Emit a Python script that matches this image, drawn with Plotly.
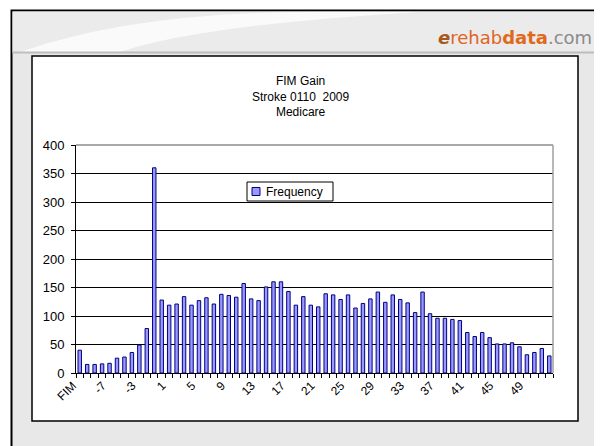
import plotly.graph_objects as go

# ---------------- data ----------------
categories = ["FIM"] + [str(v) for v in range(-10, 53)]
frequency = [40, 15, 15, 16, 17, 26, 28, 36, 49, 78, 360, 128, 119, 121, 134, 119, 127, 132, 121,
             138, 136, 133, 157, 130, 127, 151, 160, 160, 143, 119, 134, 119, 116, 139, 137, 129,
             137, 114, 122, 130, 142, 124, 137, 129,
             123, 106, 142, 104, 96, 96, 94, 92, 71, 64, 71, 62, 51, 51, 53, 46, 32, 36, 43, 30]
tick_labels = ["FIM", "-7", "-3", "1", "5", "9", "13", "17", "21", "25", "29", "33", "37", "41", "45", "49"]
y_ticks = [0, 50, 100, 150, 200, 250, 300, 350, 400]
title_lines = ["FIM Gain", "Stroke 0110  2009", "Medicare"]
series_name = "Frequency"

# ---------------- layout geometry (viewport pixels) ----------------
OFF = 8                      # default page body margin
W, H = 602 - OFF, 446 - OFF  # figure size so that it fits the window
PL, PR, PT, PB = 76, 553, 145, 373   # plot area in viewport pixels
FONT = "Arial, Liberation Sans, sans-serif"
BAR_FILL, BAR_LINE = "#9999FF", "#000080"


def px(x):
    return (x - PL) / (PR - PL)


def py(y):
    return (PB - y) / (PB - PT)


fig = go.Figure()
fig.add_trace(go.Bar(
    x=categories, y=frequency, name=series_name, showlegend=False,
    marker=dict(color=BAR_FILL, line=dict(color=BAR_LINE, width=1)),
))

shapes = []
# outer slide frame
shapes.append(dict(type="rect", xref="paper", yref="paper", layer="below",
                   x0=px(11.5), x1=px(598), y0=py(470), y1=py(10.5),
                   fillcolor="#e8e8e8", line=dict(color="black", width=2)))
# lighter top band
shapes.append(dict(type="rect", xref="paper", yref="paper", layer="below",
                   x0=px(12.5), x1=px(597), y0=py(52), y1=py(11.5),
                   fillcolor="#ebebeb", line=dict(width=0)))
# swoosh
swoosh = "M {a},{b} Q {c},{d} {e},{f} L {g},{h} Q {i},{j} {k},{l} Z".format(
    a=px(20), b=py(52), c=px(140), d=py(10), e=px(330), f=py(12),
    g=px(420), h=py(12), i=px(200), j=py(25), k=px(120), l=py(52))
shapes.append(dict(type="path", xref="paper", yref="paper", layer="below", path=swoosh,
                   fillcolor="rgba(255,255,255,0.75)", line=dict(width=0)))
# band separator line
shapes.append(dict(type="line", xref="paper", yref="paper", layer="below",
                   x0=px(12.5), x1=px(597), y0=py(52.5), y1=py(52.5),
                   line=dict(color="#bdbdbd", width=2)))
# inner white chart box
shapes.append(dict(type="rect", xref="paper", yref="paper", layer="below",
                   x0=px(32), x1=px(578), y0=py(421), y1=py(56),
                   fillcolor="white", line=dict(color="black", width=1.5)))
# plot area border (top / right) in grey
shapes.append(dict(type="line", xref="paper", yref="paper", layer="above",
                   x0=0, x1=1, y0=1, y1=1, line=dict(color="#8c8c8c", width=1.5)))
shapes.append(dict(type="line", xref="paper", yref="paper", layer="above",
                   x0=1, x1=1, y0=0, y1=1, line=dict(color="#a0a0a0", width=1.5)))
# legend box and key
shapes.append(dict(type="rect", xref="paper", yref="paper", layer="above",
                   x0=px(247), x1=px(333), y0=py(201), y1=py(182),
                   fillcolor="white", line=dict(color="black", width=1)))
shapes.append(dict(type="rect", xref="paper", yref="paper", layer="above",
                   x0=px(252), x1=px(260), y0=py(195.5), y1=py(187.5),
                   fillcolor=BAR_FILL, line=dict(color=BAR_LINE, width=1)))

annotations = [
    dict(xref="paper", yref="paper", x=px(301), y=py(96), xanchor="center", yanchor="middle",
         text="<br>".join(title_lines), showarrow=False,
         font=dict(family=FONT, size=12, color="black")),
    dict(xref="paper", yref="paper", x=px(594), y=py(50), xanchor="right", yanchor="bottom",
         text="<span style='color:#a85a1e'><b><i>e</i></b></span><span style='color:#e0651f'>rehab</span>"
              "<span style='color:#e06a1b'><b>data</b></span><span style='color:#8a8a8a'>.com</span>",
         showarrow=False, font=dict(family="Verdana, DejaVu Sans, sans-serif", size=18)),
    dict(xref="paper", yref="paper", x=px(264), y=py(191.5), xanchor="left", yanchor="middle",
         text=series_name, showarrow=False,
         font=dict(family=FONT, size=12, color="black")),
]

fig.update_layout(
    width=W, height=H,
    margin=dict(l=PL - OFF, r=W - (PR - OFF), t=PT - OFF, b=H - (PB - OFF), pad=0),
    paper_bgcolor="white", plot_bgcolor="white",
    bargap=0.54,
    shapes=shapes, annotations=annotations,
    font=dict(family=FONT, size=12, color="black"),
    showlegend=False,
    xaxis=dict(type="category", tickmode="array", tickvals=categories,
               ticktext=[c if c in tick_labels else "" for c in categories],
               tickson="boundaries", ticks="outside", ticklen=4, tickcolor="black",
               tickangle=-45, ticklabelshift=-7,
               showline=True, linecolor="black", linewidth=1,
               showgrid=False, tickfont=dict(family=FONT, size=12, color="black"),
               range=[-0.5, len(categories) - 0.5]),
    yaxis=dict(range=[0, 400], tickmode="array", tickvals=y_ticks,
               ticks="outside", ticklen=4, tickcolor="black", ticklabelstandoff=4,
               showline=True, linecolor="black", linewidth=1,
               showgrid=True, gridcolor="black", gridwidth=1,
               zeroline=False, tickfont=dict(family=FONT, size=13, color="black")),
)

fig.write_html("out.html")
